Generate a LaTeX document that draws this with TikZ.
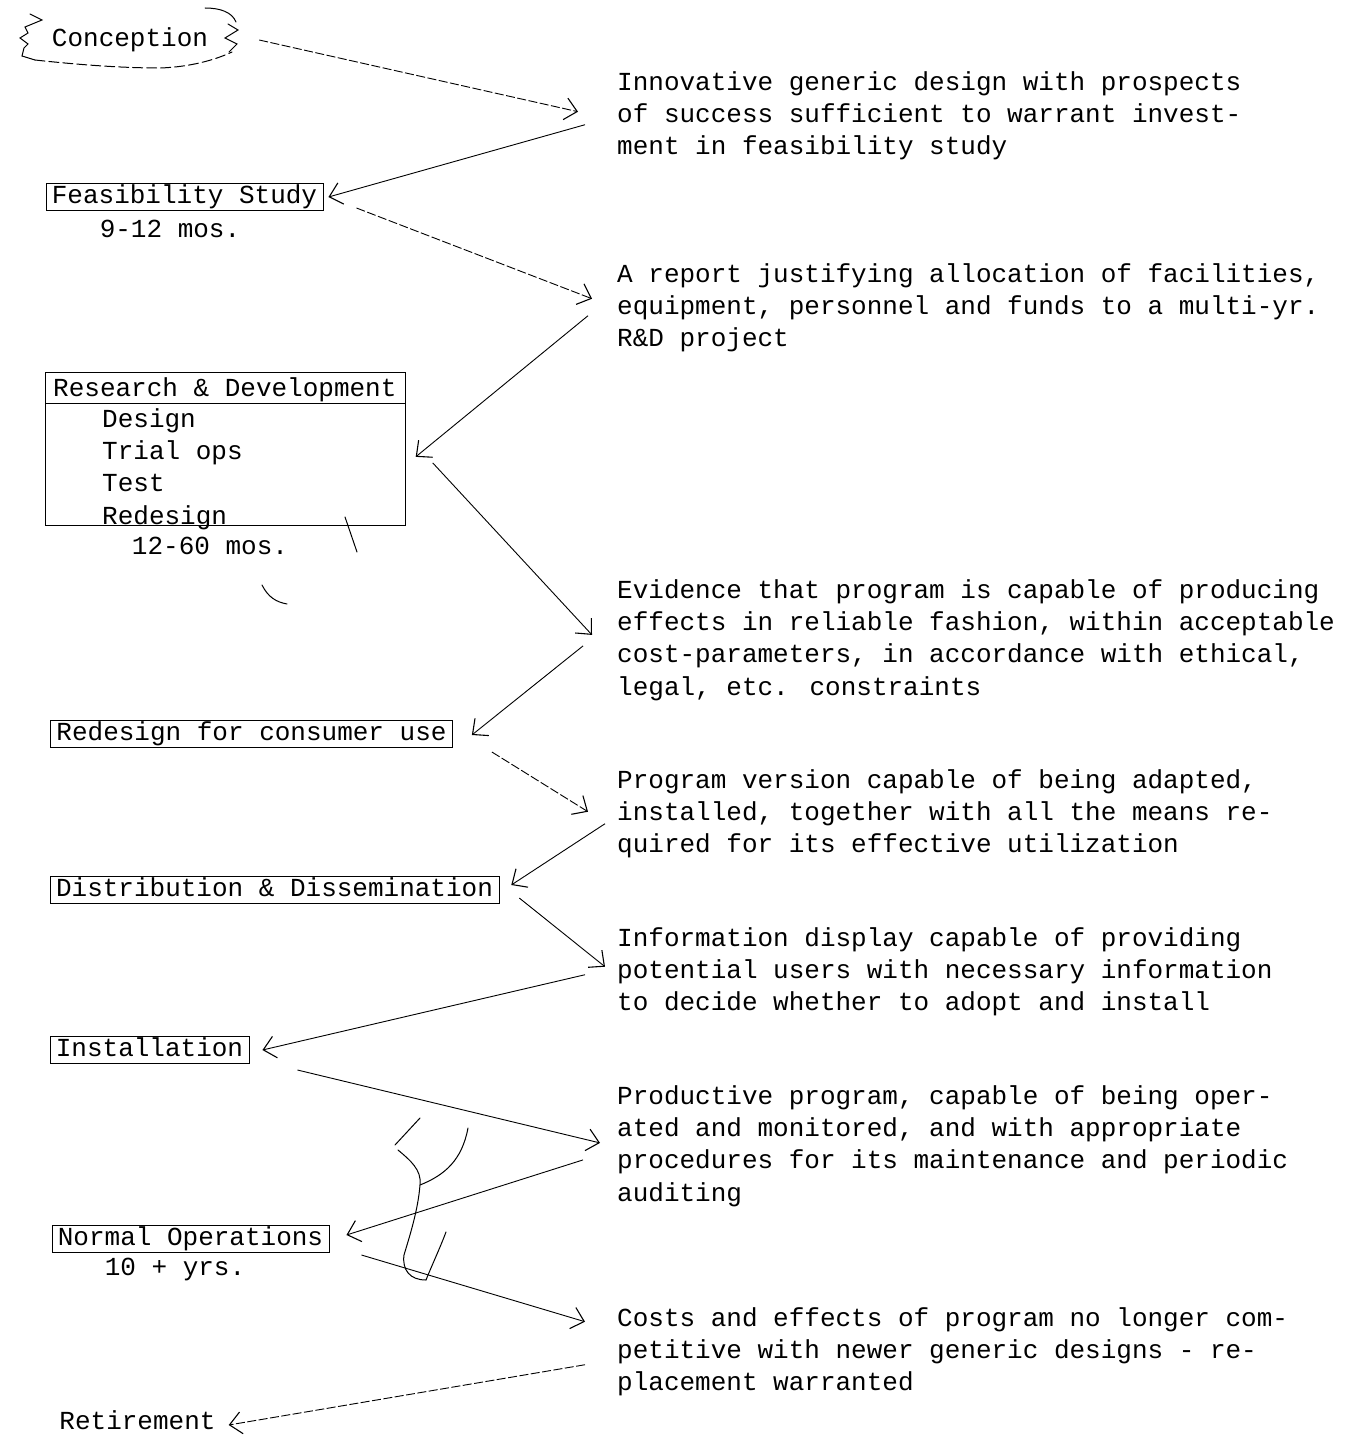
\documentclass[tikz,border=0pt]{standalone}
\usepackage{fontspec}
\setmainfont{Liberation Mono}
\usetikzlibrary{arrows.meta}
\begin{document}
\begin{tikzpicture}[x=1pt,y=-1pt,
  txt/.style={font=\fontsize{26}{32.4}\selectfont, inner sep=0pt, align=left},
  stage/.style={draw, line width=0.7pt, font=\fontsize{26}{32.4}\selectfont, inner xsep=6pt, inner ysep=2pt, text height=18pt, text depth=5pt},
  plain/.style={font=\fontsize{26}{32.4}\selectfont, inner sep=0pt},
  arr/.style={-{Straight Barb[length=12pt,width=22pt,line width=1.1pt]}, line width=0.9pt},
  faint/.style={dash pattern=on 9pt off 2.5pt},
  penmark/.style={line width=1pt, line cap=round}]
\useasboundingbox (0,0) rectangle (1357,1437);

% stages
\node[plain] (conc) at (130,40) {Conception};
\node[stage] (feas) at (184.5,197) {Feasibility Study};
\node[plain] (feasd) at (170,229) {9-12 mos.};
\node[draw, line width=0.7pt, minimum width=360pt, minimum height=153pt, inner sep=0pt, anchor=north west] (rd) at (45,372) {};
\node[plain, anchor=base west] (rdh) at (53,396) {Research \& Development};
\coordinate (div) at (0,403);
\draw[line width=0.6pt] (rd.west |- div) -- (rd.east |- div);
\node[txt, anchor=north west] (rdl) at (102,408) {Design\\Trial ops\\Test\\Redesign};
\node[plain] (rdd) at (210,546) {12-60 mos.};
\node[stage] (red) at (251.5,734) {Redesign for consumer use};
\node[stage] (dist) at (274.5,890) {Distribution \& Dissemination};
\node[stage] (inst) at (149.5,1050) {Installation};
\node[stage] (norm) at (190.5,1239) {Normal Operations};
\node[plain] (normd) at (175,1269) {10 + yrs.};
\node[plain] (ret) at (137.5,1420) {Retirement};

% outcomes
\node[txt, anchor=north west] (t1) at (617,71) {Innovative generic design with prospects\\of success sufficient to warrant invest-\\ment in feasibility study};
\node[txt, anchor=north west] (t2) at (617,263) {A report justifying allocation of facilities,\\equipment, personnel and funds to a multi-yr.\\R\&D project};
\node[txt, anchor=north west] (t3) at (617,579) {Evidence that program is capable of producing\\effects in reliable fashion, within acceptable\\cost-parameters, in accordance with ethical,\\legal, etc. constraints};
\node[txt, anchor=north west] (t4) at (617,769) {Program version capable of being adapted,\\installed, together with all the means re-\\quired for its effective utilization};
\node[txt, anchor=north west] (t5) at (617,927) {Information display capable of providing\\potential users with necessary information\\to decide whether to adopt and install};
\node[txt, anchor=north west] (t6) at (617,1085) {Productive program, capable of being oper-\\ated and monitored, and with appropriate\\procedures for its maintenance and periodic\\auditing};
\node[txt, anchor=north west] (t7) at (617,1307) {Costs and effects of program no longer com-\\petitive with newer generic designs - re-\\placement warranted};

% connectors
\draw[arr,faint] ([shift={(51,0)}]conc.east) -- ([shift={(-39,-4)}]t1.west);
\draw[arr] ([shift={(-32,9)}]t1.west) -- ([shift={(5,0)}]feas.east);
\draw[arr,faint] ([shift={(33,11)}]feas.east) -- ([shift={(-25,-9)}]t2.west);
\draw[arr] ([shift={(-29,8)}]t2.west) -- ([shift={(10,8)}]rd.east);
\draw[arr] ([shift={(27,14)}]rd.east) -- ([shift={(-25,-5)}]t3.west);
\draw[arr] ([shift={(-34,6)}]t3.west) -- ([shift={(19,1)}]red.east);
\draw[arr,faint] ([shift={(39,18)}]red.east) -- ([shift={(-29,-2)}]t4.west);
\draw[arr] ([shift={(-12,10)}]t4.west) -- ([shift={(12,-5)}]dist.east);
\draw[arr] ([shift={(20,8)}]dist.east) -- ([shift={(-12,-5)}]t5.west);
\draw[arr] ([shift={(-32,3)}]t5.west) -- ([shift={(13,0)}]inst.east);
\draw[arr] ([shift={(48,20)}]inst.east) -- ([shift={(-17,-3)}]t6.west);
\draw[arr] ([shift={(-34,14)}]t6.west) -- ([shift={(17,-4)}]norm.east);
\draw[arr] ([shift={(32,16)}]norm.east) -- ([shift={(-32,-30)}]t7.west);
\draw[arr,faint] ([shift={(-32,13)}]t7.west) -- ([shift={(13,5)}]ret.east);

% hand-drawn squiggle round Conception
\draw[penmark] (30,14) -- (42,20) -- (25,27) -- (28,33) -- (20,38) -- (28,44) -- (24,48) -- (22,56) -- (35,60);
\draw[penmark, dash pattern=on 10pt off 4pt] (35,60) .. controls (90,66) and (130,68) .. (160,68) .. controls (190,67) and (215,60) .. (232,52);
\draw[penmark] (205,8) .. controls (220,8) and (232,12) .. (236,22);
\draw[penmark] (228,24) -- (238,30) -- (225,38) -- (237,44) -- (229,52);
% stray pen marks
\draw[penmark] (345,517) -- (357,552);
\draw[penmark] (262,585) .. controls (268,597) and (276,602) .. (287,604);
\draw[penmark] (420,1118) -- (395,1145);
\draw[penmark] (398,1150) .. controls (410,1160) and (422,1170) .. (420,1185) .. controls (418,1210) and (410,1235) .. (404,1255) .. controls (402,1270) and (410,1280) .. (426,1280) .. controls (432,1265) and (440,1248) .. (446,1232);
\draw[penmark] (420,1185) .. controls (445,1175) and (462,1160) .. (468,1128);
\end{tikzpicture}
\end{document}
